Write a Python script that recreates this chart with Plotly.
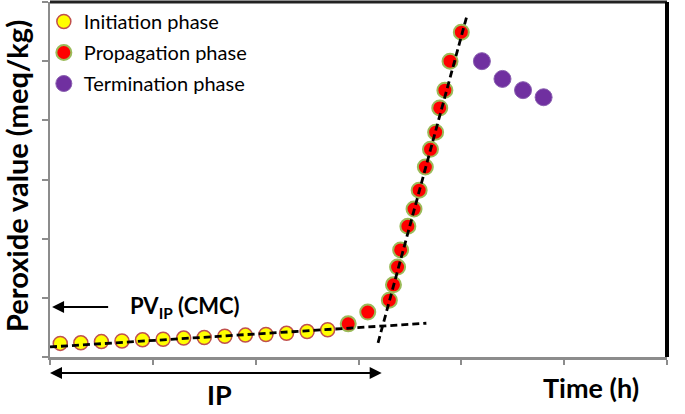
import plotly.graph_objects as go

# Initiation phase
init_x = [0.1, 0.3, 0.5, 0.7, 0.9, 1.1, 1.3, 1.5, 1.7, 1.9, 2.1, 2.3, 2.5, 2.7]
init_y = [0.23, 0.24, 0.26, 0.27, 0.29, 0.30, 0.32, 0.33, 0.35, 0.37, 0.38, 0.40, 0.43, 0.46]

# Propagation phase
prop_x = [2.90, 3.09, 3.30, 3.34, 3.38, 3.41, 3.48, 3.54, 3.59, 3.65, 3.70, 3.75, 3.79, 3.84, 3.89, 4.00]
prop_y = [0.56, 0.76, 0.96, 1.22, 1.52, 1.81, 2.21, 2.50, 2.82, 3.21, 3.51, 3.80, 4.21, 4.51, 5.00, 5.49]

# Termination phase
term_x = [4.20, 4.40, 4.60, 4.80]
term_y = [5.00, 4.70, 4.51, 4.39]

# Tangent (fit) lines
fit1_x = [0.0, 3.66]
fit1_y = [0.17, 0.57]
fit2_x = [3.19, 4.05]
fit2_y = [0.24, 5.74]

FONT = "Lato"

fig = go.Figure()

fig.add_trace(go.Scatter(x=init_x, y=init_y, mode="markers", name="Initiation phase",
                         legendgroup="a",
                         marker=dict(size=14, color="#FFFF00", line=dict(color="#C0504D", width=1.5))))
fig.add_trace(go.Scatter(x=prop_x, y=prop_y, mode="markers", name="Propagation phase",
                         legendgroup="b",
                         marker=dict(size=15, color="#FF0000", line=dict(color="#9BBB59", width=2))))
fig.add_trace(go.Scatter(x=term_x, y=term_y, mode="markers", name="Termination phase",
                         legendgroup="c",
                         marker=dict(size=17, color="#7030A0", line=dict(color="#8A60B0", width=1))))

fig.add_trace(go.Scatter(x=fit1_x, y=fit1_y, mode="lines", showlegend=False,
                         line=dict(color="black", width=2.8, dash="7px,4px"), hoverinfo="skip"))
fig.add_trace(go.Scatter(x=fit2_x, y=fit2_y, mode="lines", showlegend=False,
                         line=dict(color="black", width=2.8, dash="7px,4px"), hoverinfo="skip"))

fig.update_layout(
    width=685, height=414,
    margin=dict(l=50, r=18, t=2, b=57),
    plot_bgcolor="white", paper_bgcolor="white",
    font=dict(family=FONT, color="black"),
    showlegend=True,
    legend=dict(x=-0.01, y=1.0, xanchor="left", yanchor="top",
                bgcolor="rgba(0,0,0,0)", font=dict(size=20, family=FONT),
                tracegroupgap=2, itemsizing="trace"),
    xaxis=dict(range=[0, 6], dtick=1, tick0=0, showticklabels=False, showgrid=False,
               zeroline=False, showline=True, linecolor="#8C8C8C", linewidth=3,
               ticks="outside", ticklen=5, tickcolor="#8C8C8C", tickwidth=1.5),
    yaxis=dict(range=[0, 6], dtick=1, tick0=0, showticklabels=False, showgrid=False,
               zeroline=False, showline=True, linecolor="#8C8C8C", linewidth=2,
               ticks="outside", ticklen=6, tickcolor="#8C8C8C", tickwidth=1.5),
    shapes=[
        dict(type="line", xref="paper", yref="paper", x0=0, x1=1, y0=1, y1=1,
             line=dict(color="#222222", width=3), layer="above"),
        dict(type="line", xref="paper", yref="paper", x0=1, x1=1, y0=0, y1=1,
             line=dict(color="black", width=4), layer="above"),
    ],
    annotations=[
        dict(text="<b>Peroxide value (meq/kg)</b>", xref="paper", yref="paper",
             x=-0.0535, y=0.51, textangle=-90, showarrow=False,
             font=dict(size=29, family=FONT), xanchor="center", yanchor="middle"),
        dict(text="<b>Time (h)</b>", xref="paper", yref="paper", x=0.877, y=-0.085,
             showarrow=False, font=dict(size=27, family=FONT), xanchor="center", yanchor="middle"),
        dict(text="<b>IP</b>", xref="x", yref="paper", x=1.65, y=-0.107,
             showarrow=False, font=dict(size=27, family=FONT), xanchor="center", yanchor="middle"),
        dict(text="<b>PV<sub>IP</sub> (CMC)</b>", xref="x", yref="y", x=1.31, y=0.845,
             showarrow=False, font=dict(size=22, family=FONT), xanchor="center", yanchor="middle"),
        # left arrow
        dict(text="", xref="x", yref="y", x=0.02, y=0.845, axref="x", ax=0.58, ayref="pixel", ay=0,
             showarrow=True, arrowhead=2, arrowsize=1.2, arrowwidth=2, arrowcolor="black"),
        # double arrow IP
        dict(text="", xref="x", yref="paper", x=0.0, y=-0.045, axref="x", ax=3.24, ayref="pixel", ay=0,
             showarrow=True, arrowhead=2, arrowside="end+start", arrowsize=1.2, arrowwidth=2,
             arrowcolor="black"),
    ],
)

fig.write_html("out.html", config={"displayModeBar": False},
               post_script="document.body.style.margin='0px';")
